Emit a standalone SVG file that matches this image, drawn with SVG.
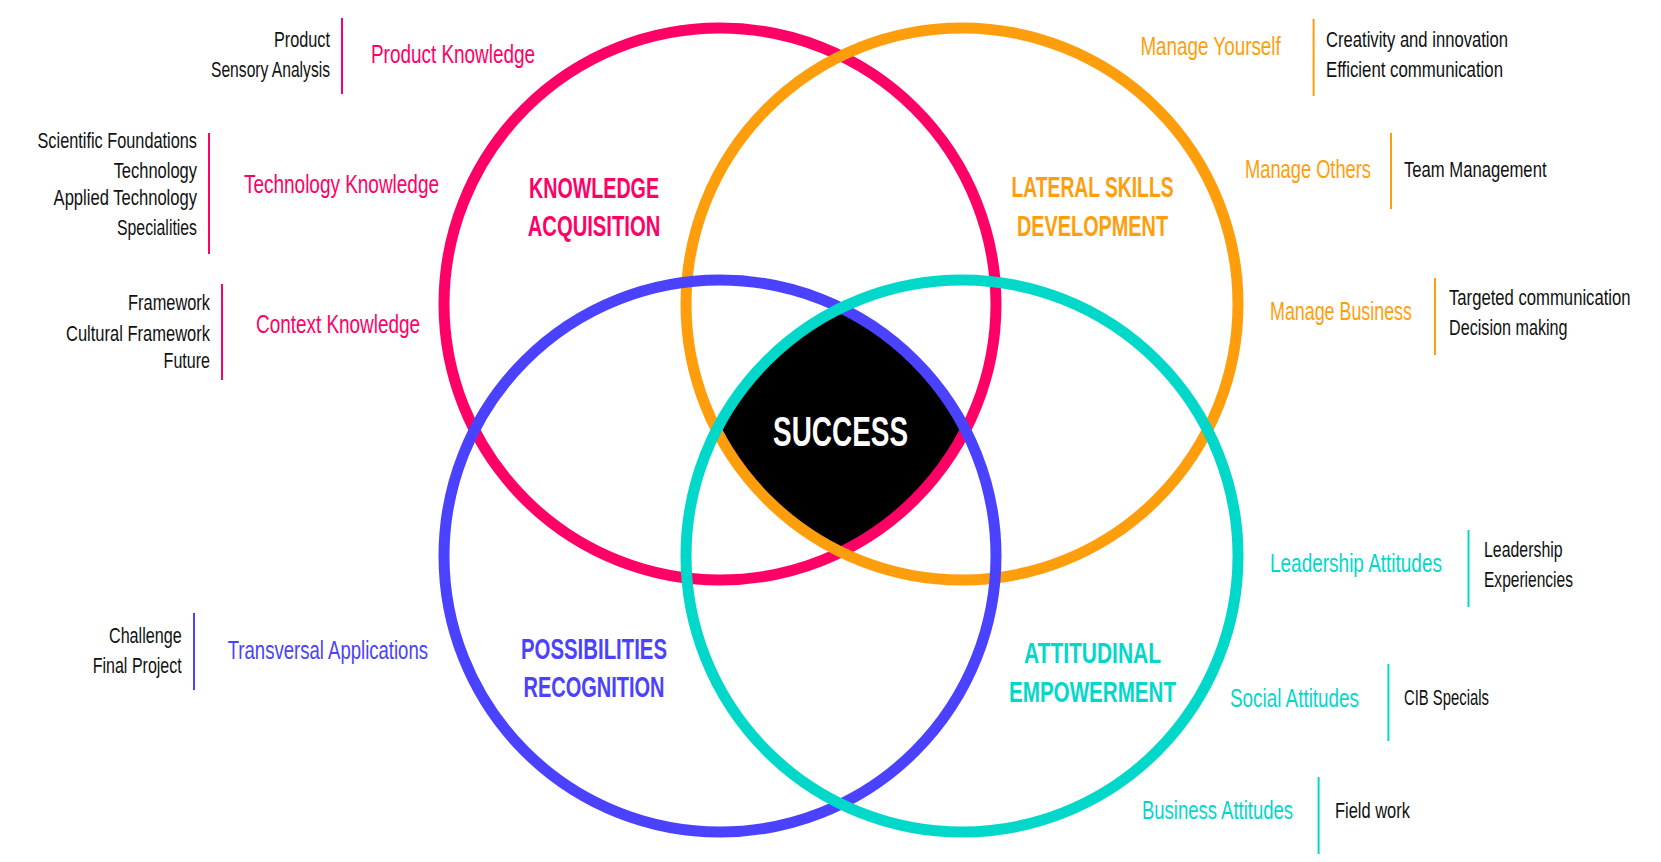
<svg xmlns="http://www.w3.org/2000/svg" width="1661" height="862" viewBox="0 0 1661 862">
<style>
  text { font-family: "Liberation Sans", Arial, sans-serif; }
  .item { font-size: 22px; fill: #111111; }
  .end { text-anchor: end; }
  .cat { font-size: 25px; }
  .big { font-size: 29px; font-weight: bold; text-anchor: middle; }
  .ring { fill: none; stroke-width: 11; }
  .div { stroke-width: 2; }
  .pink { fill: #FF0066; } .orange { fill: #FF9E0C; } .blue { fill: #4A42FF; } .teal { fill: #02D8CA; }
  .spink { stroke: #FF0066; } .sorange { stroke: #FF9E0C; } .sblue { stroke: #4A42FF; } .steal { stroke: #02D8CA; }
</style>
<rect x="0" y="0" width="1661" height="862" fill="#ffffff"/>

<g id="success">
  <path d="M841,307.94 A276,276 0 0 1 965.56,430 A276,276 0 0 1 841,552.06 A276,276 0 0 1 716.44,430 A276,276 0 0 1 841,307.94 Z" fill="#000000"/>
</g>

<g id="circle-knowledge"><circle class="ring spink" cx="720" cy="304" r="276"/></g>
<g id="circle-lateral"><circle class="ring sorange" cx="962" cy="304" r="276"/></g>
<g id="circle-possibilities"><circle class="ring sblue" cx="720" cy="556" r="276"/></g>
<g id="circle-attitudinal"><circle class="ring steal" cx="962" cy="556" r="276"/></g>

<g id="success-label">
  <text transform="translate(840.5,446) scale(0.65,1)" textLength="207.7" lengthAdjust="spacingAndGlyphs" style="font-size:43px;font-weight:bold;text-anchor:middle;fill:#ffffff">SUCCESS</text>
</g>

<g id="label-knowledge" class="pink">
  <text class="big" transform="translate(594,198) scale(0.68,1)" textLength="191.2" lengthAdjust="spacingAndGlyphs">KNOWLEDGE</text>
  <text class="big" transform="translate(594,236) scale(0.68,1)" textLength="194.9" lengthAdjust="spacingAndGlyphs">ACQUISITION</text>
</g>
<g id="label-lateral" class="orange">
  <text class="big" transform="translate(1092.5,197) scale(0.68,1)" textLength="238.2" lengthAdjust="spacingAndGlyphs">LATERAL SKILLS</text>
  <text class="big" transform="translate(1092.5,236) scale(0.68,1)" textLength="222.1" lengthAdjust="spacingAndGlyphs">DEVELOPMENT</text>
</g>
<g id="label-possibilities" class="blue">
  <text class="big" transform="translate(594,659) scale(0.68,1)" textLength="214.7" lengthAdjust="spacingAndGlyphs">POSSIBILITIES</text>
  <text class="big" transform="translate(594,697) scale(0.68,1)" textLength="207.4" lengthAdjust="spacingAndGlyphs">RECOGNITION</text>
</g>
<g id="label-attitudinal" class="teal">
  <text class="big" transform="translate(1092.5,663) scale(0.68,1)" textLength="201.5" lengthAdjust="spacingAndGlyphs">ATTITUDINAL</text>
  <text class="big" transform="translate(1092.5,702) scale(0.68,1)" textLength="245.6" lengthAdjust="spacingAndGlyphs">EMPOWERMENT</text>
</g>

<!-- Left side: knowledge groups -->
<g id="product-knowledge">
  <text class="item end" transform="translate(330,47) scale(0.7,1)" textLength="80" lengthAdjust="spacingAndGlyphs">Product</text>
  <text class="item end" transform="translate(330,77) scale(0.7,1)" textLength="170" lengthAdjust="spacingAndGlyphs">Sensory Analysis</text>
  <line class="div spink" x1="342" y1="18" x2="342" y2="94"/>
  <text class="cat pink" transform="translate(371,63) scale(0.75,1)" textLength="218.7" lengthAdjust="spacingAndGlyphs">Product Knowledge</text>
</g>
<g id="technology-knowledge">
  <text class="item end" transform="translate(197,148) scale(0.7,1)" textLength="227.9" lengthAdjust="spacingAndGlyphs">Scientific Foundations</text>
  <text class="item end" transform="translate(197,178) scale(0.7,1)" textLength="119.1" lengthAdjust="spacingAndGlyphs">Technology</text>
  <text class="item end" transform="translate(197,205) scale(0.7,1)" textLength="204.9" lengthAdjust="spacingAndGlyphs">Applied Technology</text>
  <text class="item end" transform="translate(197,235) scale(0.7,1)" textLength="114.3" lengthAdjust="spacingAndGlyphs">Specialities</text>
  <line class="div spink" x1="209" y1="133" x2="209" y2="254"/>
  <text class="cat pink" transform="translate(244,193) scale(0.75,1)" textLength="260" lengthAdjust="spacingAndGlyphs">Technology Knowledge</text>
</g>
<g id="context-knowledge">
  <text class="item end" transform="translate(210,310) scale(0.7,1)" textLength="117.1" lengthAdjust="spacingAndGlyphs">Framework</text>
  <text class="item end" transform="translate(210,341) scale(0.7,1)" textLength="205.7" lengthAdjust="spacingAndGlyphs">Cultural Framework</text>
  <text class="item end" transform="translate(210,368) scale(0.7,1)" textLength="66.3" lengthAdjust="spacingAndGlyphs">Future</text>
  <line class="div spink" x1="222" y1="284" x2="222" y2="380"/>
  <text class="cat pink" transform="translate(256,333) scale(0.75,1)" textLength="218.7" lengthAdjust="spacingAndGlyphs">Context Knowledge</text>
</g>
<g id="transversal-applications">
  <text class="item end" transform="translate(181.7,643) scale(0.7,1)" textLength="103.9" lengthAdjust="spacingAndGlyphs">Challenge</text>
  <text class="item end" transform="translate(181.7,673) scale(0.7,1)" textLength="127.1" lengthAdjust="spacingAndGlyphs">Final Project</text>
  <line class="div sblue" x1="194" y1="613" x2="194" y2="690"/>
  <text class="cat blue" transform="translate(227.7,659) scale(0.75,1)" textLength="267.1" lengthAdjust="spacingAndGlyphs">Transversal Applications</text>
</g>

<!-- Right side: lateral skills groups -->
<g id="manage-yourself">
  <text class="cat orange" transform="translate(1140.4,55) scale(0.75,1)" textLength="187.1" lengthAdjust="spacingAndGlyphs">Manage Yourself</text>
  <line class="div sorange" x1="1313.6" y1="19" x2="1313.6" y2="96"/>
  <text class="item" transform="translate(1326,47) scale(0.7,1)" textLength="260" lengthAdjust="spacingAndGlyphs">Creativity and innovation</text>
  <text class="item" transform="translate(1326,77) scale(0.7,1)" textLength="252.9" lengthAdjust="spacingAndGlyphs">Efficient communication</text>
</g>
<g id="manage-others">
  <text class="cat orange" transform="translate(1245,178) scale(0.75,1)" textLength="168" lengthAdjust="spacingAndGlyphs">Manage Others</text>
  <line class="div sorange" x1="1391" y1="133" x2="1391" y2="209"/>
  <text class="item" transform="translate(1404,177) scale(0.7,1)" textLength="203.6" lengthAdjust="spacingAndGlyphs">Team Management</text>
</g>
<g id="manage-business">
  <text class="cat orange" transform="translate(1270,320) scale(0.75,1)" textLength="189.3" lengthAdjust="spacingAndGlyphs">Manage Business</text>
  <line class="div sorange" x1="1435" y1="278" x2="1435" y2="355"/>
  <text class="item" transform="translate(1449,305) scale(0.7,1)" textLength="259.4" lengthAdjust="spacingAndGlyphs">Targeted communication</text>
  <text class="item" transform="translate(1449,335) scale(0.7,1)" textLength="169.4" lengthAdjust="spacingAndGlyphs">Decision making</text>
</g>

<!-- Right side: attitudinal groups -->
<g id="leadership-attitudes">
  <text class="cat teal" transform="translate(1270,572) scale(0.75,1)" textLength="229.3" lengthAdjust="spacingAndGlyphs">Leadership Attitudes</text>
  <line class="div steal" x1="1468.5" y1="530" x2="1468.5" y2="607"/>
  <text class="item" transform="translate(1484,557) scale(0.7,1)" textLength="112.3" lengthAdjust="spacingAndGlyphs">Leadership</text>
  <text class="item" transform="translate(1484,587) scale(0.7,1)" textLength="127.1" lengthAdjust="spacingAndGlyphs">Experiencies</text>
</g>
<g id="social-attitudes">
  <text class="cat teal" transform="translate(1230,707) scale(0.75,1)" textLength="172" lengthAdjust="spacingAndGlyphs">Social Attitudes</text>
  <line class="div steal" x1="1388.4" y1="664" x2="1388.4" y2="741"/>
  <text class="item" transform="translate(1404,705) scale(0.7,1)" textLength="121.4" lengthAdjust="spacingAndGlyphs">CIB Specials</text>
</g>
<g id="business-attitudes">
  <text class="cat teal" transform="translate(1142,819) scale(0.75,1)" textLength="201.3" lengthAdjust="spacingAndGlyphs">Business Attitudes</text>
  <line class="div steal" x1="1318.6" y1="777" x2="1318.6" y2="854"/>
  <text class="item" transform="translate(1335,818) scale(0.7,1)" textLength="107.1" lengthAdjust="spacingAndGlyphs">Field work</text>
</g>

<g id="connectors"></g>
</svg>
